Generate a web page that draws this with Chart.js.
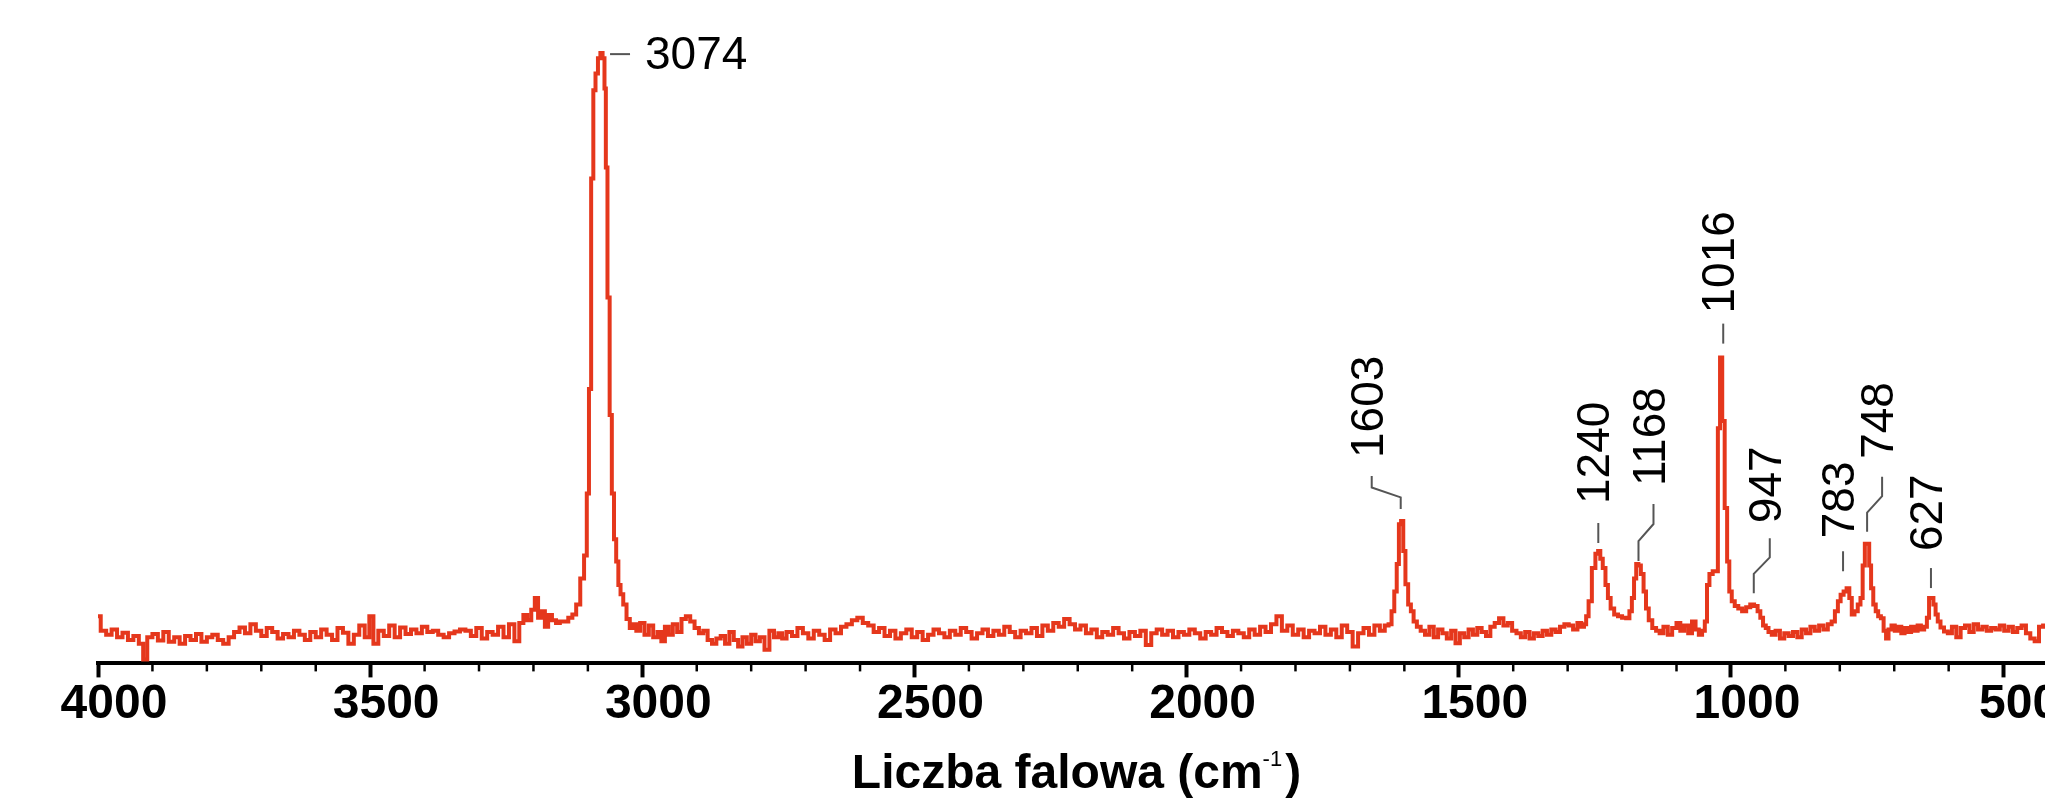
<!DOCTYPE html>
<html>
<head>
<meta charset="utf-8">
<script src="https://cdn.jsdelivr.net/npm/chart.js@4.4.1/dist/chart.umd.min.js"></script>
<style>
  html, body { margin: 0; padding: 0; background: #fff; }
  #wrap { width: 2045px; height: 800px; }
</style>
</head>
<body>
<div id="wrap"><canvas id="chart" width="2045" height="800"></canvas></div>
<script>
// Raman spectrum (wavenumber in cm-1, intensity in arbitrary units)
var waveNumbers = [
  4000,3990,3980,3970,3960,3950,3940,3930,3920,3914,
  3905,3895,3885,3875,3865,3855,3845,3835,3825,3815,
  3805,3795,3785,3775,3765,3755,3745,3735,3725,3715,
  3705,3695,3685,3675,3665,3655,3645,3635,3625,3615,
  3605,3595,3585,3575,3565,3555,3545,3535,3525,3515,
  3505,3498,3490,3480,3470,3460,3450,3440,3430,3420,
  3410,3400,3390,3380,3370,3360,3350,3340,3330,3320,
  3310,3300,3290,3280,3270,3260,3250,3240,3230,3222,
  3215,3208,3200,3195,3188,3182,3176,3170,3162,3155,
  3148,3140,3132,
  3125,3118,3110,3104,3100,3096,3092,3088,3084,3079,
  3075,3071,3068,3066,3062,3058,3054,3050,3046,3042,
  3038,3032,3026,3020,3014,
  3008,3000,2992,2984,2976,2968,2962,2955,2948,2940,
  2932,2924,2916,2908,2900,2892,2884,2876,2868,2860,
  2852,2844,2836,2828,2820,2812,2804,2796,2788,2780,
  2771,2762,2754,2746,
  2740,2730,2720,2710,2700,2690,2680,2670,2660,2650,
  2640,2630,2620,2610,2600,2590,2580,2570,2560,2550,
  2540,2530,2520,2510,2500,2490,2480,2470,2460,2450,
  2440,2430,2420,2410,2400,2390,2380,2370,2360,2350,
  2340,2330,2320,2310,2300,2290,2280,2270,2260,2250,
  2240,2230,2220,2210,2200,2190,2180,2170,2160,2150,
  2140,2130,2120,2110,2100,2090,2080,2070,2060,2050,
  2040,2030,2020,2010,2000,1990,1980,1970,1960,1950,
  1940,1930,1920,1910,1900,1890,1880,1870,1860,1850,
  1840,1830,1820,1810,1800,1790,1780,1770,1760,1750,
  1740,1730,1720,1710,1700,1690,1680,1670,1660,1650,
  1640,1632,1626,1621,1616,1612,1608,1604,1600,1596,
  1590,1586,1580,1574,
  1566,1558,1550,1542,1534,1526,1518,1510,1502,1494,
  1486,1478,1470,1462,1454,1446,1438,1430,1422,1414,
  1406,1398,1390,1382,1374,1366,1358,1350,1342,1334,
  1326,1318,1310,1302,1294,1286,1278,1272,1268,
  1264,1259,1252,1246,1242,1238,1233,1228,1224,1218,
  1211,1204,1196,1189,1184,1180,1176,1172,1168,1163,
  1158,1154,1148,1141,1134,1128,1120,1112,1104,1096,
  1090,1082,1075,1068,1062,1056,1050,
  1046,1042,1037,1030,1026,1022,1018,1014,1009,1005,
  1001, 996, 990, 983, 976, 968, 961, 954, 948, 944,
   938, 934, 928, 922, 914, 906, 898, 890, 882, 874,
   866, 858, 850, 842, 834, 826, 818, 812,
   806, 801, 796, 790, 785, 780, 776, 770, 764, 760,
   756, 752, 748, 744, 741, 736, 732, 727, 722, 717,
   713, 708, 702, 696, 690, 684, 678, 672, 666, 660,
   654, 648, 642, 638, 634, 630, 626, 622, 618, 612,
   605, 598, 590, 582, 574, 566, 558, 550, 542, 534,
   526, 518, 510, 502, 494, 486, 478, 470, 462, 454,
   446, 438, 430, 423
];
var intensity = [
    72,  50,  44,  52,  40,  47,  36,  42,  30,   6,
    40,  45,  35,  48,  33,  40,  30,  42,  36,  45,
    33,  40,  44,  36,  30,  40,  48,  55,  46,  60,
    50,  42,  54,  48,  38,  45,  40,  50,  44,  36,
    48,  40,  52,  44,  36,  54,  47,  30,  44,  58,
    40,  72,  30,  50,  42,  58,  40,  55,  45,  52,
    46,  56,  48,  50,  44,  40,  46,  49,  52,  50,
    42,  54,  38,  48,  44,  56,  40,  60,  34,  62,
    74,  66,  82, 100,  70,  80,  56,  74,  66,  62,
    64,  64,  70,
    75,  90, 130, 165, 260, 420, 742, 877, 903, 926,
   934, 926, 880, 759, 560, 380, 260, 190, 156, 120,
   106,  90,  68,  54,  60,
    50,  62,  44,  58,  40,  48,  34,  56,  44,  60,
    48,  68,  72,  64,  54,  46,  50,  36,  30,  38,
    42,  30,  48,  36,  26,  40,  30,  44,  34,  40,
    21,  50,  40,  46,
    38,  48,  42,  54,  46,  38,  50,  44,  36,  52,
    46,  56,  60,  66,  70,  62,  58,  48,  54,  42,
    50,  38,  46,  52,  40,  48,  36,  44,  52,  46,
    40,  50,  44,  54,  48,  38,  46,  52,  42,  50,
    44,  56,  48,  40,  50,  46,  54,  42,  58,  50,
    62,  56,  68,  60,  52,  58,  46,  52,  40,  48,
    44,  54,  46,  38,  48,  42,  50,  28,  46,  52,
    44,  50,  40,  48,  44,  52,  46,  38,  48,  44,
    54,  48,  42,  50,  46,  40,  52,  44,  56,  48,
    60,  72,  50,  58,  44,  52,  40,  50,  46,  56,
    44,  52,  40,  58,  48,  26,  46,  54,  44,  58,
    50,  58,  60,  80, 110, 152, 213, 218, 172, 121,
    90,  80,  64,  56,
    50,  44,  56,  40,  52,  46,  38,  50,  31,  46,
    40,  52,  44,  54,  48,  42,  56,  62,  69,  58,
    62,  50,  46,  40,  48,  38,  46,  42,  50,  44,
    52,  48,  56,  60,  58,  52,  62,  56,  60,
    72,  95, 146, 168, 172, 160, 146, 120, 100,  84,
    75,  72,  70,  69,  80, 100, 130, 152, 150, 137,
   110,  84,  66,  54,  50,  46,  56,  44,  54,  62,
    50,  58,  46,  64,  52,  44,  50,
    64, 120, 137, 141, 141, 360, 468, 371, 238, 156,
   110,  95,  88,  84,  80,  86,  90,  88,  80,  70,
    58,  54,  48,  44,  50,  38,  46,  42,  48,  40,
    52,  46,  56,  50,  58,  52,  60,  64,
    80,  95, 105, 110, 115, 100,  75,  80,  90, 100,
   150, 183, 183, 150, 115,  90,  80,  72,  69,  50,
    38,  52,  58,  50,  56,  46,  54,  48,  56,  50,
    58,  52,  56,  70, 100, 100,  90,  75,  64,  55,
    49,  46,  56,  40,  54,  58,  48,  60,  52,  56,
    50,  54,  52,  58,  50,  56,  48,  54,  58,  46,
    38,  34,  56,  58
];

var tickValues = [500, 1000, 1500, 2000, 2500, 3000, 3500, 4000];
var peakWaves = [3074, 1603, 1240, 1168, 1016, 947, 783, 748, 627];
var peakLabels = ['3074', '1603', '1240', '1168', '1016', '947', '783', '748', '627'];
var axisTitle = 'Liczba falowa (cm';
var axisTitleSup = '-1';
var axisTitleEnd = ')';

if (waveNumbers.length !== intensity.length) {
    console.error('length mismatch', waveNumbers.length, intensity.length);
}

var points = [];
for (var i = 0; i < waveNumbers.length; i++) {
    points.push({x: waveNumbers[i], y: intensity[i]});
}

// where each peak note sits relative to its peak, in pixels
var noteLayout = [
    {horiz: true},
    {bx: -2, dx: -31, gap: 12, h: 33, tg: 18},
    {bx: -2, dx: -2, gap: 8, h: 20, tg: 19},
    {bx: -1, dx: 14, gap: 3, h: 57, tg: 18},
    {bx: 1, dx: 1, gap: 14, h: 20, tg: 10},
    {bx: -6, dx: 10, gap: 18, h: 55, tg: 15},
    {bx: -6, dx: -6, gap: 17, h: 20, tg: 13},
    {bx: -1, dx: 14, gap: 12, h: 55, tg: 18},
    {bx: -3, dx: -3, gap: 10, h: 20, tg: 17}
];

var FONT = '"Liberation Sans", Arial, sans-serif';

function peakTop(w) {
    var best = 0;
    for (var i = 0; i < waveNumbers.length; i++) {
        if (Math.abs(waveNumbers[i] - w) <= 6 && intensity[i] > best) best = intensity[i];
    }
    return best;
}

var notesPlugin = {
    id: 'notes',
    afterDraw: function(chart) {
        var ctx = chart.ctx;
        var xs = chart.scales.x, ys = chart.scales.y, area = chart.chartArea;
        ctx.save();

        // minor ticks every 100
        ctx.strokeStyle = '#000';
        ctx.lineWidth = 2.5;
        for (var v = 600; v < 4000; v += 100) {
            if (v % 500 === 0) continue;
            var mx = xs.getPixelForValue(v);
            ctx.beginPath();
            ctx.moveTo(mx, area.bottom);
            ctx.lineTo(mx, area.bottom + 8);
            ctx.stroke();
        }

        // peak labels
        ctx.font = '46px ' + FONT;
        ctx.fillStyle = '#000';
        for (var k = 0; k < peakWaves.length; k++) {
            var lay = noteLayout[k];
            var px = xs.getPixelForValue(peakWaves[k]);
            var py = ys.getPixelForValue(peakTop(peakWaves[k]));
            ctx.strokeStyle = '#555';
            ctx.lineWidth = 2;
            if (lay.horiz) {
                ctx.beginPath();
                ctx.moveTo(px + 8, py + 1);
                ctx.lineTo(px + 28, py + 1);
                ctx.stroke();
                ctx.textAlign = 'left';
                ctx.textBaseline = 'middle';
                ctx.fillText(peakLabels[k], px + 43, py + 3);
                continue;
            }
            var y0 = py - lay.gap;
            var yTop = y0 - lay.h;
            ctx.beginPath();
            ctx.moveTo(px + lay.bx, y0);
            if (lay.bx !== lay.dx) {
                ctx.lineTo(px + lay.bx, y0 - lay.h * 0.35);
                ctx.lineTo(px + lay.dx, y0 - lay.h * 0.65);
            }
            ctx.lineTo(px + lay.dx, yTop);
            ctx.stroke();

            ctx.save();
            ctx.translate(px + lay.dx - 1.5, yTop - lay.tg);
            ctx.rotate(-Math.PI / 2);
            ctx.textAlign = 'left';
            ctx.textBaseline = 'middle';
            ctx.fillText(peakLabels[k], 0, 0);
            ctx.restore();
        }

        // axis title with superscript
        var boldFont = 'bold 48px ' + FONT;
        var supFont = '22px ' + FONT;
        ctx.font = boldFont;
        var w1 = ctx.measureText(axisTitle).width;
        var w3 = ctx.measureText(axisTitleEnd).width;
        ctx.font = supFont;
        var w2 = ctx.measureText(axisTitleSup).width;
        var total = w1 + w2 + 3 + w3;
        var tx = (area.left + area.right) / 2 + 5 - total / 2;
        var ty = 788;
        ctx.textAlign = 'left';
        ctx.textBaseline = 'alphabetic';
        ctx.fillStyle = '#000';
        ctx.font = boldFont;
        ctx.fillText(axisTitle, tx, ty);
        ctx.font = supFont;
        ctx.fillText(axisTitleSup, tx + w1, ty - 22);
        ctx.font = boldFont;
        ctx.fillText(axisTitleEnd, tx + w1 + w2 + 3, ty);

        ctx.restore();
    }
};

var chartCtx = document.getElementById('chart').getContext('2d');
var myChart = new Chart(chartCtx, {
    type: 'line',
    data: {
        datasets: [{
            label: 'Raman',
            data: points,
            borderColor: '#e5371c',
            borderWidth: 4,
            pointRadius: 0,
            fill: false,
            stepped: 'middle'
        }]
    },
    options: {
        responsive: false,
        animation: false,
        events: [],
        layout: {padding: {left: 98, right: 0, top: 10, bottom: 67}},
        plugins: {
            legend: {display: false},
            tooltip: {enabled: false}
        },
        scales: {
            x: {
                type: 'linear',
                reverse: true,
                min: 423,
                max: 4000,
                afterBuildTicks: function(scale) {
                    scale.ticks = tickValues.map(function(v) { return {value: v}; });
                },
                ticks: {
                    autoSkip: false,
                    maxRotation: 0,
                    labelOffset: 16,
                    padding: -1,
                    color: '#000',
                    font: {family: FONT, size: 48, weight: 'bold'},
                    callback: function(v) { return String(v); }
                },
                grid: {
                    drawOnChartArea: false,
                    drawTicks: true,
                    tickLength: 14,
                    tickWidth: 4,
                    tickColor: '#000'
                },
                border: {display: true, color: '#000', width: 4}
            },
            y: {
                display: false,
                min: 0,
                max: 1000
            }
        }
    },
    plugins: [notesPlugin]
});
</script>
</body>
</html>
